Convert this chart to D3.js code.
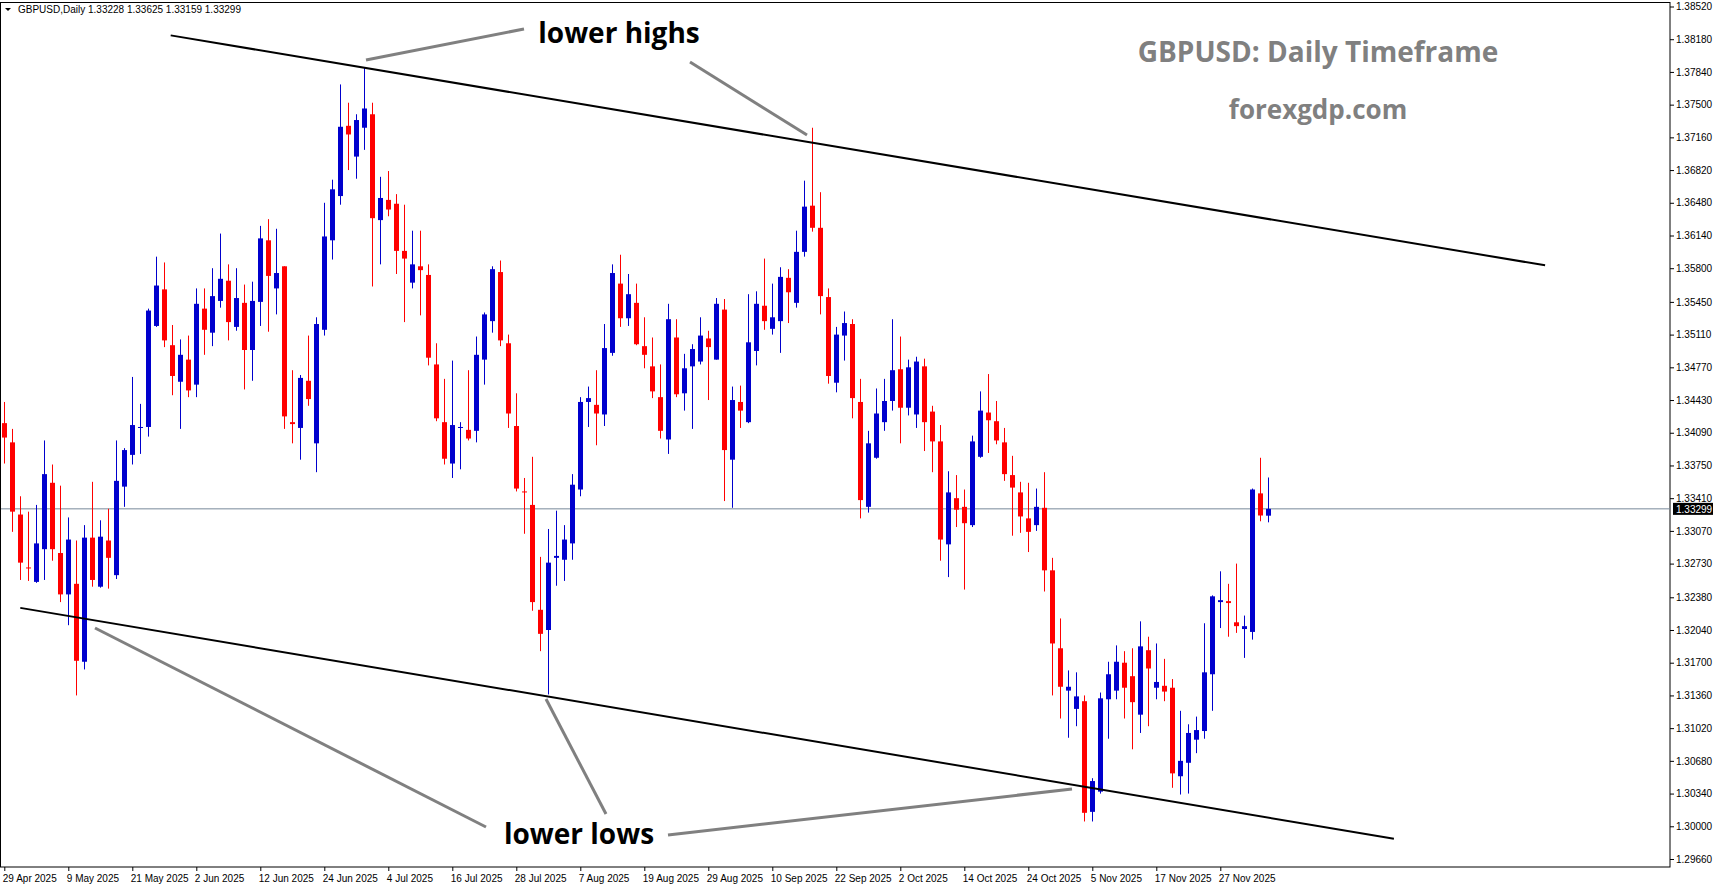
<!DOCTYPE html>
<html>
<head>
<meta charset="utf-8">
<script src="https://cdn.jsdelivr.net/npm/d3@7"></script>
<style>
  body { margin: 0; background: #fff; }
  svg { display: block; }
</style>
</head>
<body>
<div id="chart"></div>
<script>
// daily candles, [open, high, low, close]
const candles = [
  [1.3419,1.3441,1.3377,1.3404],[1.3399,1.3413,1.3306,1.3327],[1.3324,1.3343,1.3256,1.3274],[1.3269,1.3327,1.3255,1.3268],
  [1.3254,1.3334,1.3253,1.3294],[1.3288,1.3401,1.3256,1.3366],[1.3357,1.3376,1.3276,1.3288],[1.3284,1.3354,1.3233,1.3241],
  [1.3241,1.3321,1.3209,1.3298],[1.3252,1.3297,1.3136,1.3172],[1.3171,1.3313,1.3163,1.3300],[1.3300,1.3358,1.3249,1.3256],
  [1.3249,1.3318,1.3248,1.3301],[1.3297,1.3330,1.3247,1.3279],[1.3261,1.3401,1.3257,1.3359],[1.3353,1.3393,1.3332,1.3391],
  [1.3386,1.3467,1.3376,1.3417],[1.3414,1.3439,1.3387,1.3415],[1.3415,1.3538,1.3405,1.3536],[1.3520,1.3592,1.3519,1.3562],
  [1.3558,1.3586,1.3498,1.3505],[1.3500,1.3521,1.3448,1.3468],[1.3462,1.3506,1.3413,1.3490],[1.3485,1.3510,1.3446,1.3453],
  [1.3459,1.3559,1.3446,1.3543],[1.3538,1.3559,1.3490,1.3516],[1.3513,1.3580,1.3499,1.3551],[1.3546,1.3616,1.3539,1.3569],
  [1.3567,1.3584,1.3505,1.3524],[1.3519,1.3580,1.3515,1.3549],[1.3544,1.3563,1.3454,1.3495],[1.3495,1.3566,1.3463,1.3546],
  [1.3545,1.3624,1.3520,1.3611],[1.3609,1.3631,1.3514,1.3572],[1.3559,1.3621,1.3532,1.3575],[1.3582,1.3582,1.3413,1.3426],
  [1.3420,1.3474,1.3398,1.3418],[1.3414,1.3469,1.3381,1.3466],[1.3463,1.3510,1.3437,1.3444],[1.3398,1.3529,1.3368,1.3522],
  [1.3516,1.3648,1.3510,1.3613],[1.3609,1.3672,1.3589,1.3662],[1.3655,1.3771,1.3646,1.3727],[1.3728,1.3752,1.3682,1.3719],
  [1.3696,1.3740,1.3673,1.3734],[1.3726,1.3789,1.3703,1.3746],[1.3740,1.3752,1.3561,1.3632],[1.3630,1.3675,1.3584,1.3653],
  [1.3651,1.3681,1.3634,1.3641],[1.3647,1.3657,1.3574,1.3598],[1.3598,1.3646,1.3524,1.3590],[1.3565,1.3619,1.3559,1.3584],
  [1.3582,1.3619,1.3531,1.3578],[1.3573,1.3584,1.3479,1.3487],[1.3480,1.3502,1.3421,1.3424],[1.3420,1.3465,1.3376,1.3382],
  [1.3377,1.3484,1.3362,1.3417],[1.3414,1.3420,1.3371,1.3415],[1.3412,1.3474,1.3401,1.3403],[1.3411,1.3509,1.3399,1.3490],
  [1.3485,1.3534,1.3459,1.3532],[1.3525,1.3582,1.3513,1.3579],[1.3576,1.3588,1.3499,1.3505],[1.3502,1.3511,1.3414,1.3429],
  [1.3416,1.3450,1.3348,1.3351],[1.3348,1.3362,1.3304,1.3347],[1.3334,1.3384,1.3224,1.3233],[1.3225,1.3280,1.3182,1.3200],
  [1.3204,1.3309,1.3137,1.3274],[1.3279,1.3328,1.3250,1.3281],[1.3277,1.3313,1.3255,1.3298],[1.3294,1.3366,1.3277,1.3355],
  [1.3350,1.3446,1.3343,1.3441],[1.3441,1.3457,1.3415,1.3445],[1.3438,1.3474,1.3396,1.3429],[1.3428,1.3522,1.3416,1.3497],
  [1.3492,1.3584,1.3489,1.3575],[1.3564,1.3594,1.3519,1.3528],[1.3528,1.3574,1.3520,1.3553],[1.3544,1.3564,1.3500,1.3501],
  [1.3499,1.3529,1.3476,1.3490],[1.3478,1.3508,1.3445,1.3452],[1.3446,1.3480,1.3403,1.3411],[1.3402,1.3543,1.3387,1.3527],
  [1.3508,1.3527,1.3446,1.3449],[1.3450,1.3491,1.3432,1.3476],[1.3478,1.3501,1.3413,1.3496],[1.3483,1.3529,1.3480,1.3510],
  [1.3507,1.3515,1.3443,1.3498],[1.3485,1.3549,1.3485,1.3543],[1.3537,1.3548,1.3338,1.3391],[1.3381,1.3457,1.3331,1.3443],
  [1.3441,1.3458,1.3414,1.3432],[1.3420,1.3553,1.3419,1.3503],[1.3494,1.3556,1.3479,1.3543],[1.3541,1.3590,1.3516,1.3525],
  [1.3517,1.3564,1.3511,1.3529],[1.3525,1.3581,1.3492,1.3571],[1.3570,1.3579,1.3523,1.3555],[1.3544,1.3619,1.3539,1.3597],
  [1.3597,1.3671,1.3592,1.3644],[1.3645,1.3726,1.3618,1.3622],[1.3622,1.3659,1.3532,1.3551],[1.3550,1.3559,1.3460,1.3468],
  [1.3461,1.3519,1.3451,1.3511],[1.3510,1.3535,1.3484,1.3523],[1.3522,1.3527,1.3424,1.3445],[1.3441,1.3465,1.3320,1.3339],
  [1.3332,1.3411,1.3326,1.3398],[1.3383,1.3455,1.3382,1.3429],[1.3420,1.3465,1.3411,1.3442],[1.3442,1.3527,1.3432,1.3474],
  [1.3475,1.3509,1.3398,1.3435],[1.3435,1.3485,1.3427,1.3477],[1.3428,1.3488,1.3414,1.3483],[1.3478,1.3486,1.3390,1.3420],
  [1.3431,1.3437,1.3368,1.3400],[1.3400,1.3417,1.3276,1.3298],[1.3293,1.3369,1.3259,1.3347],[1.3341,1.3365,1.3311,1.3329],
  [1.3332,1.3350,1.3246,1.3315],[1.3313,1.3406,1.3311,1.3400],[1.3384,1.3452,1.3383,1.3432],[1.3430,1.3470,1.3388,1.3422],
  [1.3421,1.3442,1.3397,1.3401],[1.3399,1.3414,1.3359,1.3366],[1.3365,1.3385,1.3302,1.3352],[1.3347,1.3358,1.3305,1.3322],
  [1.3320,1.3357,1.3285,1.3306],[1.3313,1.3351,1.3307,1.3332],[1.3331,1.3368,1.3244,1.3266],[1.3266,1.3279,1.3136,1.3190],
  [1.3185,1.3216,1.3112,1.3145],[1.3141,1.3162,1.3092,1.3145],[1.3122,1.3160,1.3104,1.3135],[1.3130,1.3136,1.3005,1.3014],
  [1.3015,1.3050,1.3005,1.3047],[1.3036,1.3139,1.3034,1.3133],[1.3132,1.3171,1.3091,1.3158],[1.3141,1.3188,1.3132,1.3171],
  [1.3170,1.3182,1.3112,1.3144],[1.3156,1.3185,1.3080,1.3129],[1.3116,1.3213,1.3097,1.3187],[1.3183,1.3197,1.3104,1.3164],
  [1.3144,1.3190,1.3132,1.3150],[1.3146,1.3174,1.3130,1.3140],[1.3144,1.3153,1.3040,1.3055],[1.3052,1.3120,1.3033,1.3068],
  [1.3066,1.3106,1.3034,1.3097],[1.3090,1.3114,1.3076,1.3100],[1.3099,1.3211,1.3091,1.3160],[1.3158,1.3240,1.3120,1.3239],
  [1.3233,1.3265,1.3206,1.3235],[1.3234,1.3252,1.3197,1.3232],[1.3212,1.3273,1.3201,1.3208],[1.3205,1.3219,1.3175,1.3208],
  [1.3202,1.3351,1.3194,1.3350],[1.3346,1.3383,1.3317,1.3323],[1.33228,1.33625,1.33159,1.33299]
]

const dateLabels = ['29 Apr 2025','9 May 2025','21 May 2025','2 Jun 2025','12 Jun 2025','24 Jun 2025','4 Jul 2025',
  '16 Jul 2025','28 Jul 2025','7 Aug 2025','19 Aug 2025','29 Aug 2025','10 Sep 2025','22 Sep 2025','2 Oct 2025',
  '14 Oct 2025','24 Oct 2025','5 Nov 2025','17 Nov 2025','27 Nov 2025']
const labelEvery = 8

const priceTicks = [1.3852,1.3818,1.3784,1.3750,1.3716,1.3682,1.3648,1.3614,1.3580,1.3545,1.3511,1.3477,
  1.3443,1.3409,1.3375,1.3341,1.3307,1.3273,1.3238,1.3204,1.3170,1.3136,1.3102,1.3068,1.3034,1.3000,1.2966]

const lastPrice = 1.33299

// channel lines [bar index, price]
const upperLine = [[20.8, 1.3822], [192.6, 1.3583]]
const lowerLine = [[2.0, 1.3227], [173.7, 1.2987]]

const W = 1714, H = 888
const plotRight = 1670, plotBottom = 867
const axisFont = '"Liberation Sans", Arial, sans-serif'

const x = d3.scaleLinear().domain([0, 1]).range([4.3, 12.3])
const y = d3.scaleLinear().domain([1.2966, 1.3852]).range([859, 6.5])

const svg = d3.select('#chart').append('svg').attr('width', W).attr('height', H)
  .style('font-family', axisFont)

svg.append('rect').attr('x', 0.5).attr('y', 2.5).attr('width', plotRight - 0.5).attr('height', plotBottom - 2.5)
  .attr('fill', '#fff').attr('stroke', '#000')

// current price line
svg.append('line').attr('x1', 1).attr('x2', plotRight).attr('y1', y(lastPrice)).attr('y2', y(lastPrice))
  .attr('stroke', '#778899').attr('stroke-width', 1)

const g = svg.append('g')
candles.forEach((c, i) => {
  const [o, h, l, cl] = c
  const col = cl >= o ? '#0000cd' : '#ff0000'
  const cx = Math.round(x(i)) + 0.5
  g.append('line').attr('x1', cx).attr('x2', cx).attr('y1', y(h)).attr('y2', y(l)).attr('stroke', col)
  const top = y(Math.max(o, cl)), bot = y(Math.min(o, cl))
  g.append('rect').attr('x', cx - 2.5).attr('y', top).attr('width', 5).attr('height', Math.max(1, bot - top))
    .attr('fill', col)
})

// channel
const line = d3.line().x(d => x(d[0])).y(d => y(d[1]))
;[upperLine, lowerLine].forEach(l => {
  svg.append('path').attr('d', line(l)).attr('stroke', '#000').attr('stroke-width', 2).attr('fill', 'none')
})

// annotations
const grey = [[366, 60, 524, 29], [690, 62, 807, 135], [95, 628, 486, 827], [546, 699, 606, 814], [668, 835, 1072, 789]]
grey.forEach(d => {
  svg.append('line').attr('x1', d[0]).attr('y1', d[1]).attr('x2', d[2]).attr('y2', d[3])
    .attr('stroke', '#808080').attr('stroke-width', 3)
})
svg.append('text').attr('x', 619).attr('y', 43).attr('text-anchor', 'middle')
  .style('font', 'bold 28px "Open Sans", sans-serif').text('lower highs')
svg.append('text').attr('x', 579).attr('y', 844).attr('text-anchor', 'middle')
  .style('font', 'bold 28px "Open Sans", sans-serif').text('lower lows')
svg.append('text').attr('x', 1318).attr('y', 62).attr('text-anchor', 'middle').attr('fill', '#808080')
  .style('font', 'bold 28px "Open Sans", sans-serif').text('GBPUSD: Daily Timeframe')
svg.append('text').attr('x', 1318).attr('y', 119).attr('text-anchor', 'middle').attr('fill', '#808080')
  .style('font', 'bold 26px "Open Sans", sans-serif').text('forexgdp.com')

// header
svg.append('path').attr('d', 'M5,8 L11,8 L8,11 Z').attr('fill', '#000')
svg.append('text').attr('x', 18).attr('y', 13).attr('font-size', 10).attr('fill', '#000')
  .text('GBPUSD,Daily  1.33228 1.33625 1.33159 1.33299')

// price axis
const yAxis = d3.axisRight(y).tickValues(priceTicks).tickSize(4).tickFormat(d3.format('.5f'))
const ya = svg.append('g').attr('transform', `translate(${plotRight},0)`).call(yAxis)
ya.select('.domain').remove()
ya.selectAll('text').attr('font-size', 10).attr('fill', '#000').attr('x', 6)
  .style('font-family', axisFont)

svg.append('rect').attr('x', plotRight + 3).attr('y', y(lastPrice) - 6).attr('width', 40).attr('height', 12).attr('fill', '#000')
svg.append('text').attr('x', plotRight + 6).attr('y', y(lastPrice) + 4).attr('font-size', 10).attr('fill', '#fff')
  .text(d3.format('.5f')(lastPrice))

// date axis
const dateIdx = dateLabels.map((d, i) => i * labelEvery)
const xAxis = d3.axisBottom(x).tickValues(dateIdx).tickSize(4).tickFormat((d, i) => dateLabels[i])
const xa = svg.append('g').attr('transform', `translate(0,${plotBottom})`).call(xAxis)
xa.select('.domain').remove()
xa.selectAll('text').attr('font-size', 10).attr('fill', '#000').attr('text-anchor', 'start').attr('dx', -2).attr('y', 8)
  .style('font-family', axisFont)
</script>
</body>
</html>
